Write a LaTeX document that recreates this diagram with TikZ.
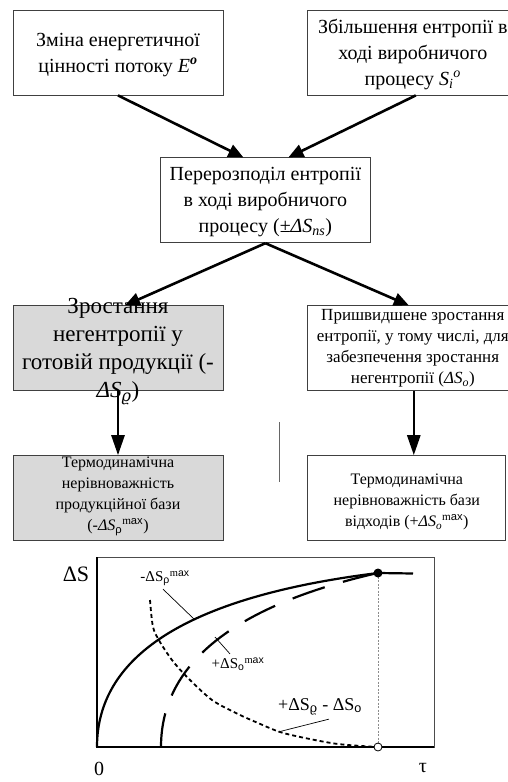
\documentclass[tikz,border=0pt]{standalone}
\usepackage{fontspec}
\setmainfont{Liberation Serif}
\setsansfont{Liberation Sans}
\newfontfamily\rhofont{DejaVu Serif}
\usetikzlibrary{positioning,calc,arrows.meta}

% box text: centred, smashed, so it may spill over the frame
\newcommand{\boxlines}[2][-6pt]{\makebox[0pt]{\smash{\raisebox{#1}{\begin{tabular}{@{}c@{}}#2\end{tabular}}}}}

\tikzset{
  flowbox/.style={draw=black!75, line width=0.8pt, minimum width=210pt, minimum height=85pt,
                  inner sep=0pt, font=\fontsize{20pt}{26pt}\selectfont},
  shaded/.style={fill=black!15},
  flow/.style={line width=2.6pt, -{Triangle[length=15pt,width=13pt]}},
  drop/.style={line width=2.6pt, -{Triangle[length=20pt,width=13pt]}},
  pointer/.style={line width=0.7pt},
  curve/.style={line width=2.2pt},
}

\begin{document}
\begin{tikzpicture}[x=1pt,y=1pt]

    \useasboundingbox (0,0) rectangle (507,-782);

    % Define nodes
    \node[flowbox] (energy) at (118,-52.5)
        {\boxlines[-7pt]{Зміна енергетичної\\ цінності потоку \textit{E}\textsuperscript{\textbf{\textit{o}}}}};
    \node[flowbox, right=84pt of energy] (entropy)
        {\boxlines[-7pt]{Збільшення ентропії в\\ ході виробничого\\ процесу \textit{S}\textsubscript{\textit{i}}\textsuperscript{\textit{o}}}};
    \node[flowbox, anchor=north] (redist) at ($(energy.south)!.5!(entropy.south)+(0,-62)$)
        {\boxlines[-6pt]{Перерозподіл ентропії\\ в ході виробничого\\ процесу (±\textit{ΔS}\textsubscript{\textit{ns}})}};
    \node[flowbox, shaded, below=210pt of energy, font=\fontsize{23pt}{28pt}\selectfont] (neg-prod)
        {\boxlines[-8pt]{Зростання\\ негентропії у\\ готовій продукції (-\\ \textit{ΔS}\textsubscript{\rhofont\itshape ϱ})}};
    \node[flowbox, below=210pt of entropy, font=\fontsize{17pt}{21pt}\selectfont] (fast-ent)
        {\boxlines[-4pt]{Пришвидшене зростання\\ ентропії, у тому числі, для\\ забезпечення зростання\\ негентропії (\textit{ΔS}\textsubscript{\textit{o}})}};
    \node[flowbox, shaded, below=64pt of neg-prod, font=\fontsize{16pt}{21pt}\selectfont] (base-prod)
        {\boxlines[-1pt]{Термодинамічна\\ нерівноважність\\ продукційної бази\\ (-\textit{ΔS}\textsubscript{\sffamily ρ}\textsuperscript{m\sffamily ax})}};
    \node[flowbox, below=64pt of fast-ent, xshift=-6pt, minimum width=198pt, font=\fontsize{16pt}{21pt}\selectfont] (base-waste)
        {\boxlines[-8pt]{Термодинамічна\\ нерівноважність бази\\ відходів (+\textit{ΔS}\textsubscript{\textit{o}}\textsuperscript{m\sffamily ax})}};

    % Connect the nodes
    \draw[flow] (energy.south) -- ([xshift=-22pt]redist.north);
    \draw[flow] ([xshift=3pt]entropy.south) -- ([xshift=23pt]redist.north);
    \draw[flow] (redist.south) -- ([xshift=7pt]neg-prod.north);
    \draw[flow] (redist.south) -- ([xshift=-4pt]fast-ent.north);
    \draw[drop] (neg-prod.south) -- (base-prod.north);
    \draw[drop] ([xshift=1pt]fast-ent.south) -- ([xshift=1pt]fast-ent.south |- base-waste.north);
    \draw[black!60, line width=0.6pt] (279,-422) -- (279,-482);

    % Chart
    \draw[black!70, line width=0.6pt] (97,-557) rectangle (434,-747);
    \draw[line width=1.6pt] (97,-557) -- (97,-747) -- (434,-747);
    \draw[black!45, line width=0.5pt, dash pattern=on 2pt off 1.5pt] (378,-573) -- (378,-747);

    \draw[curve] plot[domain=0:16.763, samples=60, smooth]
        ({97+\x*\x}, {-747+16.6*\x-0.371*\x*\x}) -- (413,-573.5);
    \draw[curve, dash pattern=on 34pt off 19pt] plot[domain=0:14.76, samples=60, smooth]
        ({161+\x*\x}, {-747+16.9*\x-0.345*\x*\x});
    \draw[line width=1.8pt, dash pattern=on 4pt off 3pt] plot[smooth] coordinates {(150,-600)
        (153,-627) (160,-642) (172,-660) (187,-677) (212,-700) (238,-714) (258,-723) (280,-732)
        (305,-738) (338,-744) (377,-747)};

    \node[circle, fill, inner sep=0pt, minimum size=9pt] (peak) at (378,-573) {};
    \node[circle, draw, fill=white, line width=0.8pt, inner sep=0pt, minimum size=8pt] (settle) at (378,-747) {};

    \node[font=\fontsize{22pt}{22pt}\selectfont] (ds-lbl) at (76,-574) {ΔS};
    \node[font=\fontsize{20pt}{20pt}\selectfont] (zero) at (99,-769) {0};
    \node[font=\fontsize{20pt}{20pt}\selectfont] (tau) at (423,-768) {τ};
    \node[font=\fontsize{15pt}{15pt}\selectfont] (rho-lbl) at (165,-578)
        {-ΔS\textsubscript{\sffamily ρ}\textsuperscript{m\sffamily ax}};
    \node[font=\fontsize{15pt}{15pt}\selectfont] (waste-lbl) at (238,-664)
        {+ΔS\textsubscript{\sffamily o}\textsuperscript{m\sffamily ax}};
    \node[font=\fontsize{18pt}{18pt}\selectfont] (diff-lbl) at (320,-707)
        {+ΔS\textsubscript{\rhofont ϱ} - ΔS\textsubscript{\sffamily o}};

    \coordinate (rho-pt) at (195,-620);
    \coordinate (waste-pt) at (215,-637);
    \coordinate (diff-pt) at (278,-732);
    \draw[pointer] ([xshift=-2pt]rho-lbl.south) -- (rho-pt);
    \draw[pointer] ([xshift=-8pt]waste-lbl.north) -- (waste-pt);
    \draw[pointer] ([xshift=9pt]diff-lbl.south) -- (diff-pt);

\end{tikzpicture}
\end{document}
